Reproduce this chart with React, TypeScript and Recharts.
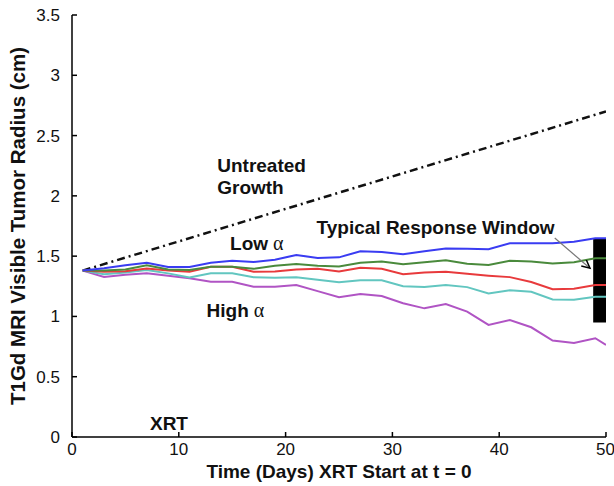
import React from 'react';
import { LineChart, Line, XAxis, YAxis, ReferenceArea, ReferenceDot, ReferenceLine } from 'recharts';

const days = [1, 3, 5, 7, 9, 11, 13, 15, 17, 19, 21, 23, 25, 27, 29, 31, 33, 35, 37, 39, 41, 43, 45, 47, 49, 50];
const lowAlpha = [1.38, 1.40, 1.425, 1.445, 1.41, 1.41, 1.445, 1.462, 1.452, 1.47, 1.51, 1.485, 1.49, 1.54, 1.535, 1.515, 1.54, 1.563, 1.561, 1.557, 1.607, 1.607, 1.607, 1.62, 1.648, 1.648];
const midLowAlpha = [1.38, 1.38, 1.39, 1.425, 1.39, 1.385, 1.412, 1.412, 1.395, 1.42, 1.435, 1.42, 1.415, 1.445, 1.455, 1.432, 1.45, 1.465, 1.437, 1.427, 1.462, 1.456, 1.438, 1.45, 1.482, 1.482];
const midAlpha = [1.38, 1.37, 1.375, 1.398, 1.38, 1.371, 1.412, 1.412, 1.37, 1.372, 1.39, 1.395, 1.372, 1.404, 1.395, 1.35, 1.365, 1.371, 1.353, 1.338, 1.326, 1.285, 1.225, 1.23, 1.26, 1.26];
const midHighAlpha = [1.38, 1.35, 1.365, 1.385, 1.357, 1.323, 1.358, 1.358, 1.325, 1.32, 1.325, 1.305, 1.283, 1.30, 1.30, 1.25, 1.245, 1.261, 1.243, 1.19, 1.218, 1.204, 1.14, 1.138, 1.164, 1.164];
const highAlpha = [1.38, 1.328, 1.345, 1.358, 1.338, 1.316, 1.288, 1.288, 1.247, 1.247, 1.26, 1.21, 1.16, 1.185, 1.17, 1.109, 1.067, 1.103, 1.04, 0.93, 0.97, 0.91, 0.80, 0.78, 0.819, 0.763];
const untreatedDays = [1, 50];
const untreatedValues = [1.38, 2.70];

const xTicks = [0, 10, 20, 30, 40, 50];
const yTicks = [0, 0.5, 1, 1.5, 2, 2.5, 3, 3.5];

const data = days.map((d, i) => ({
  day: d,
  low: lowAlpha[i],
  midLow: midLowAlpha[i],
  mid: midAlpha[i],
  midHigh: midHighAlpha[i],
  high: highAlpha[i],
}));
const untreatedData = untreatedDays.map((d, i) => ({ day: d, untreated: untreatedValues[i] }));

const FONT = '"Liberation Sans", Arial, Helvetica, sans-serif';

const Note = (text: string, alpha?: boolean) => (p: any) => (
  <text x={p.cx} y={p.cy} fontFamily={FONT} fontWeight="bold" fontSize={19} fill="#111">
    {text}
    {alpha ? (
      <tspan fontFamily='"Liberation Serif", "DejaVu Serif", serif' fontWeight="normal" fontSize={20}> α</tspan>
    ) : null}
  </text>
);

const TwoLine = (a: string, b: string) => (p: any) => (
  <text x={p.cx} y={p.cy} fontFamily={FONT} fontWeight="bold" fontSize={19} fill="#111">
    <tspan x={p.cx}>{a}</tspan>
    <tspan x={p.cx} dy={22}>{b}</tspan>
  </text>
);

const Arrow = (p: any) => {
  const { x1, y1, x2, y2 } = p;
  const ang = Math.atan2(y2 - y1, x2 - x1);
  const L = 9;
  const w = 0.45;
  const ax = x2 - L * Math.cos(ang - w);
  const ay = y2 - L * Math.sin(ang - w);
  const bx = x2 - L * Math.cos(ang + w);
  const by = y2 - L * Math.sin(ang + w);
  return (
    <g>
      <line x1={x1} y1={y1} x2={x2} y2={y2} stroke="#777" strokeWidth={1.2} />
      <polyline points={`${ax},${ay} ${x2},${y2} ${bx},${by}`} fill="none" stroke="#000" strokeWidth={1.5} />
    </g>
  );
};

export default function App() {
  return (
    <div style={{ position: 'absolute', left: 0, top: 0, background: '#fff' }}>
      <LineChart
        width={614}
        height={486}
        data={data}
        margin={{ top: 15, right: 8, left: 0, bottom: 0 }}
      >
        <XAxis
          xAxisId="b"
          dataKey="day"
          type="number"
          domain={[0, 50]}
          ticks={xTicks}
          allowDataOverflow
          height={49}
          stroke="#000"
          strokeWidth={1.5}
          tickSize={-5}
          tickMargin={11}
          tick={{ fill: '#111', fontSize: 17, fontFamily: FONT }}
          label={{ value: 'Time (Days) XRT Start at t = 0', position: 'insideBottom', offset: 8, fill: '#111', fontSize: 19, fontWeight: 'bold', fontFamily: FONT }}
        />
        <XAxis
          xAxisId="t"
          orientation="top"
          type="number"
          dataKey="day"
          domain={[0, 50]}
          ticks={xTicks}
          height={0}
          stroke="#000"
          strokeWidth={1.5}
          tickSize={-5}
          tickFormatter={() => ''}
        />
        <YAxis
          yAxisId="l"
          type="number"
          domain={[0, 3.5]}
          ticks={yTicks}
          width={72}
          stroke="#000"
          strokeWidth={1.5}
          tickSize={-5}
          tickMargin={17}
          tick={{ fill: '#111', fontSize: 17, fontFamily: FONT }}
          label={{ value: 'T1Gd MRI Visible Tumor Radius (cm)', angle: -90, position: 'insideLeft', offset: 18, fill: '#111', fontSize: 20.5, fontWeight: 'bold', fontFamily: FONT, style: { textAnchor: 'middle' } }}
        />
        <YAxis
          yAxisId="r"
          orientation="right"
          type="number"
          domain={[0, 3.5]}
          ticks={yTicks}
          width={0}
          stroke="#000"
          strokeWidth={1.5}
          tickSize={-5}
          tickFormatter={() => ''}
        />
        <Line xAxisId="b" yAxisId="l" data={untreatedData} dataKey="untreated" stroke="#111" strokeWidth={2.5} strokeDasharray="8 4 2 4" dot={false} isAnimationActive={false} />
        <Line xAxisId="b" yAxisId="l" dataKey="high" stroke="#b054c4" strokeWidth={2} dot={false} isAnimationActive={false} />
        <Line xAxisId="b" yAxisId="l" dataKey="midHigh" stroke="#62c6c0" strokeWidth={2} dot={false} isAnimationActive={false} />
        <Line xAxisId="b" yAxisId="l" dataKey="mid" stroke="#e83a3c" strokeWidth={2} dot={false} isAnimationActive={false} />
        <Line xAxisId="b" yAxisId="l" dataKey="midLow" stroke="#4a8a3c" strokeWidth={2} dot={false} isAnimationActive={false} />
        <Line xAxisId="b" yAxisId="l" dataKey="low" stroke="#3a3cf2" strokeWidth={2} dot={false} isAnimationActive={false} />
        <ReferenceArea xAxisId="b" yAxisId="l" x1={48.8} x2={50} y1={0.95} y2={1.65} fill="#000" fillOpacity={1} stroke="none" />
        <ReferenceLine xAxisId="b" yAxisId="l" segment={[{ x: 45.2, y: 1.65 }, { x: 48.5, y: 1.4 }]} shape={Arrow} />
        <ReferenceDot xAxisId="b" yAxisId="l" x={13.6} y={2.2} r={1} shape={TwoLine('Untreated', 'Growth')} />
        <ReferenceDot xAxisId="b" yAxisId="l" x={14.8} y={1.55} r={1} shape={Note('Low', true)} />
        <ReferenceDot xAxisId="b" yAxisId="l" x={12.6} y={0.995} r={1} shape={Note('High', true)} />
        <ReferenceDot xAxisId="b" yAxisId="l" x={22.9} y={1.684} r={1} shape={Note('Typical Response Window')} />
        <ReferenceDot xAxisId="b" yAxisId="l" x={7.3} y={0.058} r={1} shape={Note('XRT')} />
      </LineChart>
    </div>
  );
}
